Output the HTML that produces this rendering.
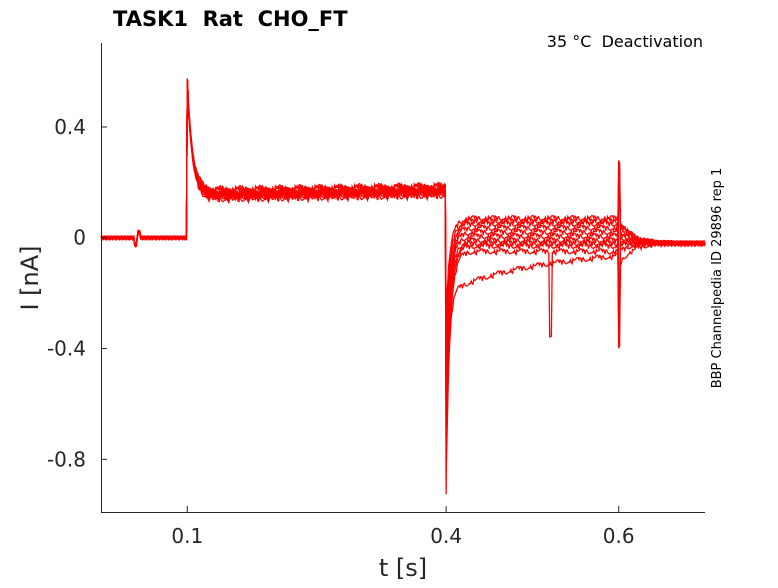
<!DOCTYPE html>
<html><head><meta charset="utf-8"><style>
body{margin:0;background:#fff;font-family:"Liberation Sans","DejaVu Sans",sans-serif}
</style></head><body>
<svg id="chart" width="778" height="583" xmlns="http://www.w3.org/2000/svg">
<text x="113" y="26" font-size="21" font-weight="bold" font-family="DejaVu Sans,sans-serif" xml:space="preserve" style="white-space:pre">TASK1  Rat  CHO_FT</text>
<text x="703" y="47" font-size="16" text-anchor="end" font-family="DejaVu Sans,sans-serif" xml:space="preserve" style="white-space:pre">35 °C  Deactivation</text>
<text transform="translate(721,278) rotate(-90)" font-size="13" text-anchor="middle" font-family="DejaVu Sans,sans-serif">BBP Channelpedia ID 29896 rep 1</text>
<g id="plot"></g>
<g id="axes"></g>
<text x="403" y="576" font-size="24" text-anchor="middle" fill="#262626" font-family="DejaVu Sans,sans-serif">t [s]</text>
<text transform="translate(38,278) rotate(-90)" font-size="24" text-anchor="middle" fill="#262626" font-family="DejaVu Sans,sans-serif">I [nA]</text>
</svg>
<script>
const xTicks=[0.1,0.4,0.6];
const xTickLabels=["0.1","0.4","0.6"];
const yTicks=[0.4,0,-0.4,-0.8];
const yTickLabels=["0.4","0","-0.4","-0.8"];
const tailLevels=[0.07,0.06,0.05,0.035,0.02,0.005,-0.01,-0.02,-0.03,-0.05,-0.1];
const tailMins=[-0.25,-0.3,-0.35,-0.4,-0.45,-0.5,-0.55,-0.6,-0.65,-0.72,-0.82];
const holdLevels=[0.15,0.155,0.16,0.145,0.15,0.165,0.14,0.155,0.16,0.15,0.17];
const noise=[0.004,-0.006,0.008,-0.003,0.01,-0.008,0.002,0.006,-0.01,0.005,-0.004,0.009,-0.007,0.003,-0.002,0.007,-0.009,0.004,0.001,-0.005,0.008,-0.006,0.002];
const X0=0,X1=0.7,Y0=-0.99,Y1=0.703,L=101,R=705,T=43,B=512;
const sx=v=>L+(v-X0)/(X1-X0)*(R-L);
const sy=v=>B-(v-Y0)/(Y1-Y0)*(B-T);
const NS="http://www.w3.org/2000/svg";
const plot=document.getElementById('plot'),axes=document.getElementById('axes');
function val(i,t,k){
  const n=noise[(k*7+i*5)%noise.length];
  if(t<0.1){let v=n*0.6;if(t>0.038&&t<0.042)v-=0.025;if(t>=0.043&&t<0.046)v+=0.02;return v;}
  if(t<0.4){const base=holdLevels[i]+(t-0.1)*0.05;return base+(0.56-base)*Math.exp(-(t-0.1)/0.006)+n*1.5;}
  if(t<0.6){const d=t-0.4,lv=tailLevels[i];let v=lv+(tailMins[i]-lv)*Math.exp(-d/(i==10?0.003:0.005));
    if(i==10)v+=-0.1*Math.exp(-d/0.07)+0.04*(d/0.2);
    if(i==9&&t>0.519&&t<0.523)v-=0.3;
    return v+n*1.0;}
  const d=t-0.6,end=-0.02+n*0.8;let v=end+(tailLevels[i]-(-0.02))*Math.exp(-d/0.015);
  if(d<0.002)v+=(i%2?0.22:-0.3);
  return v;
}
for(let i=0;i<tailLevels.length;i++){
  let pts=[];
  for(let k=0;k<=700;k++){const t=k*0.001;pts.push(sx(t).toFixed(1)+","+sy(val(i,t,k)).toFixed(1));
    if(k==100)pts.push(sx(0.1005).toFixed(1)+","+sy(0.56).toFixed(1));
    if(k==400)pts.push(sx(0.4003).toFixed(1)+","+sy(tailMins[i]).toFixed(1));}
  const p=document.createElementNS(NS,'polyline');
  
  
  p.setAttribute('points',pts.join(' '));p.setAttribute('fill','none');p.setAttribute('stroke','#ff0000');p.setAttribute('stroke-width','1.3');
  plot.appendChild(p);
}
function ln(x1,y1,x2,y2,name){const l=document.createElementNS(NS,'line');
  
  
  l.setAttribute('x1',x1);l.setAttribute('y1',y1);l.setAttribute('x2',x2);l.setAttribute('y2',y2);l.setAttribute('stroke','#262626');l.setAttribute('stroke-width','1');axes.appendChild(l);}
function tx(x,y,s,anchor,name){const e=document.createElementNS(NS,'text');
  
  
  e.setAttribute('x',x);e.setAttribute('y',y);e.setAttribute('text-anchor',anchor);e.setAttribute('font-size','20');e.setAttribute('fill','#262626');e.setAttribute('font-family','DejaVu Sans,sans-serif');e.textContent=s;axes.appendChild(e);}
ln(L+0.5,T,L+0.5,B,'y-axis-line');ln(L,B+0.5,R,B+0.5,'x-axis-line');
xTicks.forEach((v,j)=>{ln(sx(v),B,sx(v),B-6,'x-tick');tx(sx(v),543,xTickLabels[j],'middle','x-tick-label');});
yTicks.forEach((v,j)=>{ln(L,sy(v),L+6,sy(v),'y-tick');tx(86,sy(v)+7,yTickLabels[j],'end','y-tick-label');});
</script>
</body></html>
